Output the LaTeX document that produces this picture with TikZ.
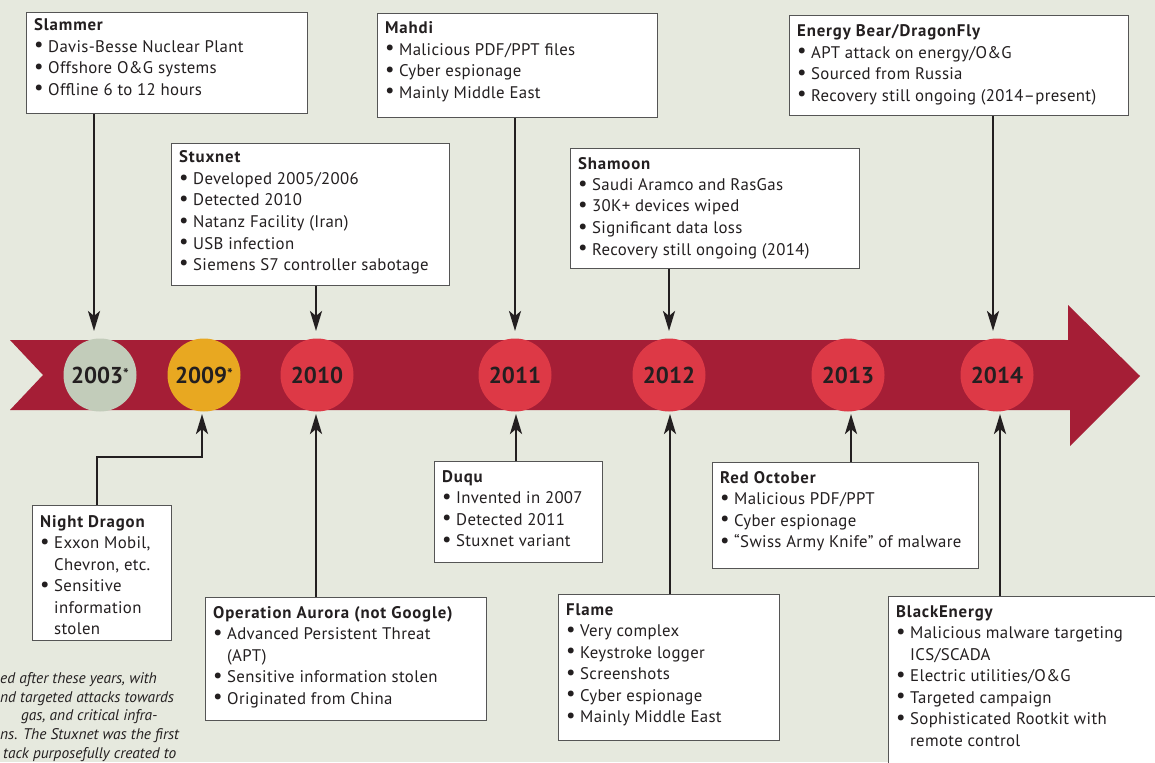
\documentclass[tikz,border=0pt]{standalone}
\usepackage{fontspec}
\setmainfont{PT Sans}[LetterSpace=2.0, BoldFont={* Bold}, BoldFeatures={LetterSpace=5.0}]
\newfontfamily\yearfont{PT Sans Bold}
\newfontfamily\notefont{PT Sans Italic}
\usetikzlibrary{arrows.meta}
\definecolor{bg}{RGB}{230,233,222}
\definecolor{band}{RGB}{165,30,54}
\definecolor{yr}{RGB}{221,57,70}
\definecolor{yrgrey}{RGB}{194,204,186}
\definecolor{yrorange}{RGB}{232,168,33}
\definecolor{ink}{RGB}{35,31,32}
\definecolor{boxline}{RGB}{85,85,85}
\newcommand{\itm}[1]{\makebox[14pt][l]{\raisebox{0.5pt}{\scalebox{1.25}{\textbullet}}}#1}
\newcommand{\cnt}[1]{\hspace*{14pt}#1}
\newcommand{\boxtext}[2]{\parbox[t]{#1}{\fontsize{16.8}{21.5}\selectfont\raggedright #2}}
\newcommand{\yrstar}{\raisebox{4pt}{\fontsize{15}{15}\selectfont *}}
\tikzset{
  evbox/.style={draw=boxline, line width=1.2pt, fill=white, anchor=north west, inner sep=0pt},
  evtext/.style={anchor=base west, inner sep=0pt, text=ink},
  yearc/.style={circle, minimum size=73pt, inner sep=0pt, font=\fontsize{23}{23}\yearfont, text=ink},
  conn/.style={line width=2.6pt, draw=ink, -{Stealth[length=20pt,width=12pt,inset=5pt]}},
  note/.style={anchor=base west, inner sep=0pt, text=ink, font=\fontsize{15.4}{15.4}\notefont},
}
\begin{document}
\begin{tikzpicture}[x=1pt,y=-1pt]
\useasboundingbox (0,0) rectangle (1155,762);
\fill[bg] (0,0) rectangle (1155,762);
\clip (0,0) rectangle (1155,762);
% band
\fill[band] (10,340) -- (1068,340) -- (1068,305) -- (1140,376) -- (1070,446) -- (1070,410) -- (10,410) -- (43,375) -- cycle;
% year circles
\node[yearc, fill=yrgrey] (c2003) at (100,375) {2003\yrstar};
\node[yearc, fill=yrorange] (c2009) at (204,375) {2009\yrstar};
\node[yearc, fill=yr] (c2010) at (317,375) {2010};
\node[yearc, fill=yr] (c2011) at (515,375) {2011};
\node[yearc, fill=yr] (c2012) at (669,375) {2012};
\node[yearc, fill=yr] (c2013) at (848,375) {2013};
\node[yearc, fill=yr] (c2014) at (997,375) {2014};
% boxes
\node[evbox, minimum width=281pt, minimum height=101pt] (slammer) at (26,12) {};
\node[evbox, minimum width=280pt, minimum height=104pt] (mahdi) at (377,13) {};
\node[evbox, minimum width=339pt, minimum height=100pt] (bear) at (789,15) {};
\node[evbox, minimum width=278pt, minimum height=142pt] (stuxnet) at (171,143) {};
\node[evbox, minimum width=289pt, minimum height=120pt] (shamoon) at (570,148) {};
\node[evbox, minimum width=139pt, minimum height=135pt] (night) at (32,505) {};
\node[evbox, minimum width=281pt, minimum height=123pt] (aurora) at (205,597) {};
\node[evbox, minimum width=168pt, minimum height=101pt] (duqu) at (434,461) {};
\node[evbox, minimum width=221pt, minimum height=146pt] (flame) at (558,594) {};
\node[evbox, minimum width=266pt, minimum height=106pt] (redoct) at (712,462) {};
\node[evbox, minimum width=300pt, minimum height=200pt] (black) at (888,596) {};
% connector tips
\coordinate (t2003) at (94,331);
\coordinate (t2010u) at (316,331);
\coordinate (t2011u) at (515,331);
\coordinate (t2012u) at (669,331);
\coordinate (t2014u) at (993,331);
\coordinate (nd1) at (97,457);
\coordinate (nd2) at (202,457);
\coordinate (t2009) at (202,414);
\coordinate (t2010d) at (316,414);
\coordinate (t2011d) at (516,414);
\coordinate (t2012d) at (670,414);
\coordinate (t2013d) at (851,414);
\coordinate (t2014d) at (1000,414);
% connectors
\draw[conn] (slammer.south -| t2003) -- (t2003);
\draw[conn] (stuxnet.south -| t2010u) -- (t2010u);
\draw[conn] (mahdi.south -| t2011u) -- (t2011u);
\draw[conn] (shamoon.south -| t2012u) -- (t2012u);
\draw[conn] (bear.south -| t2014u) -- (t2014u);
\draw[conn] (night.north -| nd1) -- (nd1) -- (nd2) -- (t2009);
\draw[conn] (aurora.north -| t2010d) -- (t2010d);
\draw[conn] (duqu.north -| t2011d) -- (t2011d);
\draw[conn] (flame.north -| t2012d) -- (t2012d);
\draw[conn] (redoct.north -| t2013d) -- (t2013d);
\draw[conn] (black.north -| t2014d) -- (t2014d);
% texts
\node[evtext] (slammerT) at (34,31) {\boxtext{270pt}{\textbf{Slammer}\\\itm{Davis-Besse Nuclear Plant}\\\itm{Offshore O\&G systems}\\\itm{Offline 6 to 12 hours}}};
\node[evtext] (mahdiT) at (385,34) {\boxtext{270pt}{\textbf{Mahdi}\\\itm{Malicious PDF/PPT files}\\\itm{Cyber espionage}\\\itm{Mainly Middle East}}};
\node[evtext] (bearT) at (797,37) {\boxtext{330pt}{\textbf{Energy Bear/DragonFly}\\\itm{APT attack on energy/O\&G}\\\itm{Sourced from Russia}\\\itm{Recovery still ongoing (2014–present)}}};
\node[evtext] (stuxnetT) at (179,163) {\boxtext{270pt}{\textbf{Stuxnet}\\\itm{Developed 2005/2006}\\\itm{Detected 2010}\\\itm{Natanz Facility (Iran)}\\\itm{USB infection}\\\itm{Siemens S7 controller sabotage}}};
\node[evtext] (shamoonT) at (578,169) {\boxtext{280pt}{\textbf{Shamoon}\\\itm{Saudi Aramco and RasGas}\\\itm{30K+ devices wiped}\\\itm{Significant data loss}\\\itm{Recovery still ongoing (2014)}}};
\node[evtext] (nightT) at (40,527) {\boxtext{130pt}{\textbf{Night Dragon}\\\itm{Exxon Mobil,}\\\cnt{Chevron, etc.}\\\itm{Sensitive}\\\cnt{information}\\\cnt{stolen}}};
\node[evtext] (auroraT) at (213,618) {\boxtext{270pt}{\textbf{Operation Aurora (not Google)}\\\itm{Advanced Persistent Threat}\\\cnt{(APT)}\\\itm{Sensitive information stolen}\\\itm{Originated from China}}};
\node[evtext] (duquT) at (442,482) {\boxtext{160pt}{\textbf{Duqu}\\\itm{Invented in 2007}\\\itm{Detected 2011}\\\itm{Stuxnet variant}}};
\node[evtext] (flameT) at (566,615) {\boxtext{210pt}{\textbf{Flame}\\\itm{Very complex}\\\itm{Keystroke logger}\\\itm{Screenshots}\\\itm{Cyber espionage}\\\itm{Mainly Middle East}}};
\node[evtext] (redoctT) at (720,483) {\boxtext{260pt}{\textbf{Red October}\\\itm{Malicious PDF/PPT}\\\itm{Cyber espionage}\\\itm{“Swiss Army Knife” of malware}}};
\node[evtext] (blackT) at (896,617) {\boxtext{260pt}{\textbf{BlackEnergy}\\\itm{Malicious malware targeting}\\\cnt{ICS/SCADA}\\\itm{Electric utilities/O\&G}\\\itm{Targeted campaign}\\\itm{Sophisticated Rootkit with}\\\cnt{remote control}}};
% note text (cut at left edge)
\node[note] (n1) at (0,683) {ed after these years, with};
\node[note] (n2) at (0,702) {nd targeted attacks towards};
\node[note] (n3) at (21,720) {gas, and critical infra-};
\node[note] (n4) at (0,739) {ns. The Stuxnet was the first};
\node[note] (n5) at (3,758) {tack purposefully created to};
\end{tikzpicture}
\end{document}
